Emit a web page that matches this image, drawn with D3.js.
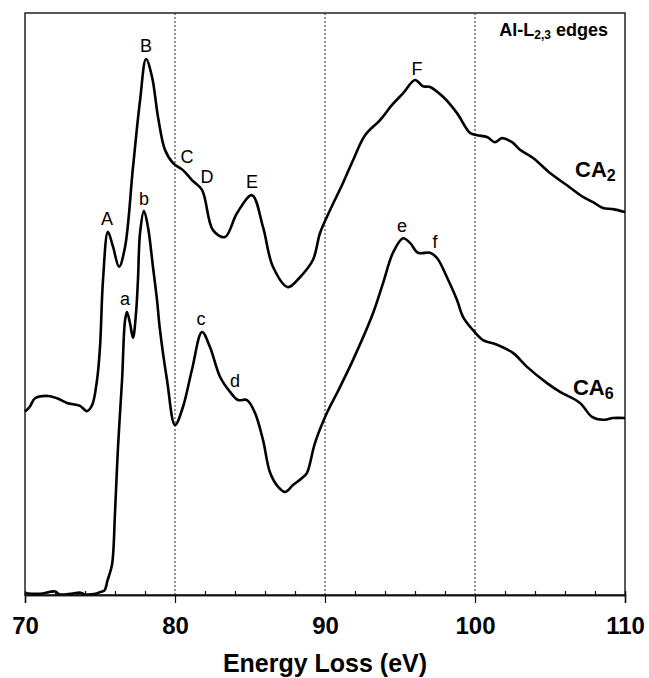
<!DOCTYPE html>
<html>
<head>
<meta charset="utf-8">
<script src="https://cdn.jsdelivr.net/npm/d3@7"></script>
<style>
body { margin: 0; background: #fff; }
text { font-family: "Liberation Sans", Arial, sans-serif; fill: #000; }
</style>
</head>
<body>
<div id="chart"></div>
<script>
// energy loss (eV) and intensity (arbitrary units)
var ca2Energy = [70.0, 70.33, 70.67, 71.53, 72.13, 72.8, 73.67, 74.13, 74.47, 74.8, 75.0, 75.2, 75.53, 75.87, 76.27, 76.67, 77.2, 77.67, 78.07, 78.47, 78.87, 79.33, 79.87, 80.53, 81.13, 81.8, 82.53, 83.33, 84.13, 85.13, 85.87, 86.53, 87.53, 88.33, 89.2, 89.67, 90.33, 91.2, 91.87, 92.67, 93.67, 94.47, 95.2, 96.0, 96.53, 97.0, 97.87, 98.8, 99.67, 100.13, 100.8, 101.33, 101.8, 102.47, 103.0, 103.87, 105.0, 106.13, 107.2, 107.87, 108.53, 109.2, 110.0];
var ca2Intensity = [31.5, 32.4, 33.8, 34.2, 33.8, 33.0, 32.5, 31.6, 32.6, 36.9, 42.6, 54.1, 62.4, 59.8, 56.4, 59.8, 73.5, 85.0, 92.1, 89.0, 82.1, 76.5, 74.2, 73.0, 71.3, 69.6, 62.7, 61.5, 65.6, 68.7, 63.2, 56.4, 52.9, 54.6, 57.6, 62.2, 66.1, 70.8, 74.7, 79.0, 81.6, 84.2, 86.2, 88.5, 87.4, 87.3, 85.6, 82.8, 79.4, 79.0, 78.7, 77.8, 78.5, 77.8, 76.5, 75.1, 72.5, 70.4, 68.4, 67.5, 66.5, 66.3, 65.8];

var ca6Energy = [70.0, 71.0, 72.0, 72.3, 73.0, 73.7, 74.0, 74.7, 75.0, 75.3, 75.5, 75.8, 76.0, 76.2, 76.47, 76.67, 76.8, 77.0, 77.2, 77.4, 77.53, 77.67, 77.93, 78.2, 78.53, 78.8, 79.0, 79.47, 80.0, 80.53, 81.13, 81.8, 82.33, 83.0, 83.67, 84.2, 84.8, 85.33, 85.87, 86.33, 86.87, 87.33, 87.87, 88.47, 88.8, 89.33, 90.13, 90.8, 91.87, 93.2, 93.87, 94.53, 95.2, 95.67, 96.2, 97.0, 97.47, 98.13, 98.8, 99.2, 99.87, 100.53, 101.47, 102.53, 103.47, 104.8, 105.67, 107.0, 107.8, 108.53, 109.2, 110.0];
var ca6Intensity = [0.3, 0.2, 0.6, 0.1, 0.2, 0.4, 0.1, 0.2, 0.5, 0.8, 2.5, 5.2, 14.1, 25.4, 36.9, 47.2, 48.6, 46.7, 44.2, 48.4, 54.1, 62.2, 66.0, 63.2, 56.4, 50.7, 45.5, 36.9, 29.2, 32.3, 38.7, 45.2, 42.6, 37.5, 34.9, 33.5, 33.5, 31.3, 26.6, 21.1, 18.6, 17.7, 18.9, 20.1, 21.0, 26.1, 31.3, 34.7, 40.4, 48.4, 53.6, 58.8, 61.3, 60.5, 58.8, 58.8, 57.9, 54.6, 50.7, 47.8, 45.5, 43.8, 43.0, 41.6, 39.2, 36.4, 34.9, 33.0, 30.6, 30.1, 30.4, 30.4];

var majorTicks = [70, 80, 90, 100, 110];
var minorTicks = [72, 74, 76, 78, 82, 84, 86, 88, 92, 94, 96, 98, 102, 104, 106, 108];
var gridLines = [80, 90, 100];

// peak labels (energy, intensity at text baseline)
var peakNames = ["A", "B", "C", "D", "E", "F", "a", "b", "c", "d", "e", "f"];
var peakEnergy = [75.47, 78.07, 80.8, 82.13, 85.13, 96.13, 76.67, 77.93, 81.73, 84.0, 95.13, 97.33];
var peakLevel = [63.6, 93.3, 74.2, 70.8, 69.9, 89.3, 49.8, 67.0, 46.4, 35.7, 62.4, 59.6];

var seriesNames = ["CA", "CA"];
var seriesSubs = ["2", "6"];
var seriesLabelEnergy = [106.67, 106.53];
var seriesLabelLevel = [71.8, 34.4];

var width = 649, height = 678;
var margin = {top: 13, right: 24, bottom: 83, left: 25};

var svg = d3.select("#chart").append("svg")
    .attr("width", width)
    .attr("height", height);

var x = d3.scaleLinear().domain([70, 110]).range([margin.left, width - margin.right]);
var y = d3.scaleLinear().domain([0, 100]).range([height - margin.bottom, margin.top]);

// dotted guides
svg.selectAll(".grid").data(gridLines).enter().append("line")
    .attr("x1", d => x(d)).attr("x2", d => x(d))
    .attr("y1", margin.top).attr("y2", height - margin.bottom)
    .attr("stroke", "#222")
    .attr("stroke-width", 1)
    .attr("stroke-dasharray", "2,2");

// frame
svg.append("rect")
    .attr("x", margin.left).attr("y", margin.top)
    .attr("width", width - margin.left - margin.right)
    .attr("height", height - margin.top - margin.bottom)
    .attr("fill", "none")
    .attr("stroke", "#222")
    .attr("stroke-width", 1.5);

var line = d3.line()
    .x(d => x(d[0]))
    .y(d => y(d[1]))
    .curve(d3.curveCatmullRom.alpha(0.5));

var ca2 = ca2Energy.map((e, i) => [e, ca2Intensity[i]]);
var ca6 = ca6Energy.map((e, i) => [e, ca6Intensity[i]]);

[ca2, ca6].forEach(function (s) {
    svg.append("path")
        .datum(s)
        .attr("d", line)
        .attr("fill", "none")
        .attr("stroke", "#000")
        .attr("stroke-width", 2.6)
        .attr("stroke-linejoin", "round");
});

// x axis: major ticks outward, minor ticks inward
var gx = svg.append("g")
    .attr("transform", "translate(0," + (height - margin.bottom) + ")");
gx.call(d3.axisBottom(x).tickValues(majorTicks).tickSize(8).tickPadding(14).tickFormat(d3.format("d")));
gx.append("g").call(d3.axisBottom(x).tickValues(minorTicks).tickSize(-4).tickFormat(""));
gx.selectAll(".domain").attr("stroke", "#111").attr("stroke-width", 1.5);
gx.selectAll(".tick line").attr("stroke", "#111").attr("stroke-width", 1.2);
gx.selectAll(".tick text")
    .attr("fill", "#000")
    .style("font-family", "'Liberation Sans', Arial, sans-serif")
    .style("font-size", "24px")
    .style("font-weight", "bold");

svg.append("text")
    .attr("x", (margin.left + width - margin.right) / 2)
    .attr("y", 672)
    .attr("text-anchor", "middle")
    .style("font-size", "25px")
    .style("font-weight", "bold")
    .text("Energy Loss (eV)");

// peak letters
svg.selectAll(".peak").data(peakNames).enter().append("text")
    .attr("x", (d, i) => x(peakEnergy[i]))
    .attr("y", (d, i) => y(peakLevel[i]))
    .attr("text-anchor", "middle")
    .style("font-size", "18px")
    .text(d => d);

// series labels
seriesNames.forEach(function (n, i) {
    var t = svg.append("text")
        .attr("x", x(seriesLabelEnergy[i]))
        .attr("y", y(seriesLabelLevel[i]))
        .style("font-size", "22px")
        .style("font-weight", "bold");
    t.append("tspan").text(n);
    t.append("tspan").attr("dy", 4).style("font-size", "16px").text(seriesSubs[i]);
});

// edge title
var title = svg.append("text")
    .attr("x", 608)
    .attr("y", 36)
    .attr("text-anchor", "end")
    .style("font-size", "18px")
    .style("font-weight", "bold");
title.append("tspan").text("Al-L");
title.append("tspan").attr("dy", 3).style("font-size", "12px").text("2,3");
title.append("tspan").attr("dy", -3).text(" edges");
</script>
</body>
</html>
